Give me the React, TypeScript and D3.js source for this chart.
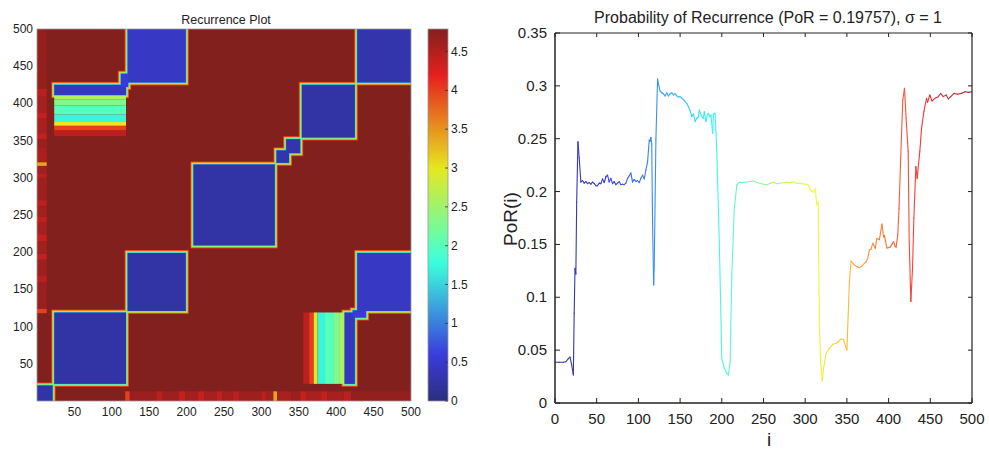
import React from 'react';
import * as d3 from 'd3';

const W = 989;
const H = 450;

// ---------- Recurrence plot (left) ----------
const RP_MAX = 4.79;
const RP_TICKS = [50, 100, 150, 200, 250, 300, 350, 400, 450, 500];
const CB_TICKS = [0, 0.5, 1, 1.5, 2, 2.5, 3, 3.5, 4, 4.5];

// low-distance (recurrent) blocks: [x0, x1, y0, y1, value, hasRim]; mirrored about the diagonal
const RP_BLOCKS: [number, number, number, number, number, number][] = [
  [0, 21, 0, 21, 0.25, 1],
  [23, 119, 23, 119, 0.25, 1],
  [121, 199, 121, 199, 0.25, 1],
  [209, 318, 209, 318, 0.25, 1],
  [320, 337, 320, 337, 0.3, 1],
  [333, 352, 333, 352, 0.3, 1],
  [354, 425, 354, 425, 0.25, 1],
  [428, 500, 428, 500, 0.3, 1],
  [121, 199, 428, 500, 0.45, 1],
  [23, 119, 411, 425, 0.4, 1],
  [112, 122, 422, 440, 0.55, 1],
];
// graded band of B vs F: [x0, x1, y0, y1, value]
const RP_BANDS: [number, number, number, number, number][] = [
  [23, 119, 356, 364, 4.45],
  [23, 119, 364, 370, 4.0],
  [23, 119, 370, 375, 3.0],
  [23, 119, 375, 385, 1.7],
  [23, 119, 385, 397, 2.0],
  [23, 119, 397, 405, 2.3],
  [23, 119, 405, 411, 2.6],
];
// lighter streaks of the first state against later states: [i0, i1, value] (rows j 0..13)
const RP_STRIPS: [number, number, number][] = [
  [118, 124, 4.0], [124, 160, 4.65], [160, 168, 4.45], [168, 190, 4.62], [190, 198, 4.4],
  [198, 215, 4.6], [215, 224, 4.4], [224, 240, 4.58], [240, 248, 4.42], [248, 262, 4.6],
  [262, 270, 4.45], [270, 300, 4.62], [300, 306, 4.45], [306, 316, 4.6], [316, 321, 3.4],
  [321, 340, 4.55], [340, 352, 4.65], [352, 360, 4.4], [360, 380, 4.55], [380, 388, 4.4],
  [388, 410, 4.58], [410, 420, 4.45], [420, 500, 4.68],
];
const RP_RIMS: [number, number][] = [[4, 4.1], [3, 3.4], [2, 2.6], [1, 1.6]];

// ---------- Probability of recurrence (right) ----------
const POR_TICKS_X = [0, 50, 100, 150, 200, 250, 300, 350, 400, 450, 500];
const POR_TICKS_Y = [0, 0.05, 0.1, 0.15, 0.2, 0.25, 0.3, 0.35];
const POR_I = [
  0, 5, 10, 13, 16, 18, 20, 22, 23, 24, 25, 26, 27.5, 29, 31, 33, 35, 37, 39, 41, 43, 45, 47, 49,
  51, 53, 55, 57, 59, 61, 63, 65, 67, 69, 71, 73, 75, 77, 79, 81, 83, 85, 87, 89, 91, 93, 95, 97,
  99, 101, 103, 105, 107, 109, 111, 113, 114, 115, 116, 117, 118.3, 119, 121, 123, 124, 126, 128,
  130, 132, 134, 136, 138, 140, 142, 144, 146, 148, 150, 152, 154, 156, 158, 160, 162, 164, 166,
  168, 170, 172, 173, 175, 176, 178, 179, 181, 183, 184, 186, 187, 189, 190, 192, 194, 197, 200,
  203, 206, 208, 210, 212, 215, 218, 221, 225, 230, 234, 238, 242, 246, 250, 254, 258, 262, 266,
  270, 274, 278, 282, 286, 290, 294, 298, 302, 304, 306, 308, 310, 312, 314, 315.5, 317, 318.5,
  320.5, 322, 325, 329, 333, 337, 340, 343, 346, 348.5, 350, 353, 355, 357, 359, 362, 365, 368,
  371, 373, 375, 377, 379, 381, 384, 386, 389, 392, 394, 395, 398, 400, 402, 404, 406, 408, 409,
  411, 412.5, 414.5, 417, 419, 421, 423.5, 424.7, 426.7, 428.7, 430.3, 432.7, 434.3, 436, 437.4,
  439.5, 442.3, 445.5, 446.7, 449.5, 452, 455.6, 459.6, 462.4, 465.6, 469, 471.7, 474.5, 478.5,
  482.5, 487.7, 491.7, 495.7, 499.7,
];
const POR_V = [
  0.0385, 0.0385, 0.0385, 0.039, 0.042, 0.0435, 0.036, 0.0265, 0.085, 0.1274, 0.122, 0.19, 0.247,
  0.232, 0.209, 0.2105, 0.208, 0.2095, 0.2075, 0.2085, 0.207, 0.209, 0.2075, 0.2055, 0.2055, 0.208,
  0.2075, 0.212, 0.2085, 0.214, 0.2155, 0.209, 0.2125, 0.2075, 0.2095, 0.2065, 0.208, 0.2095,
  0.2065, 0.207, 0.2065, 0.208, 0.2125, 0.215, 0.2175, 0.209, 0.2115, 0.2095, 0.2105, 0.2085,
  0.2125, 0.2155, 0.212, 0.2205, 0.228, 0.2488, 0.2475, 0.2514, 0.245, 0.17, 0.1116, 0.13, 0.25,
  0.3065, 0.302, 0.295, 0.2935, 0.2925, 0.2905, 0.2935, 0.2905, 0.2925, 0.2935, 0.2915, 0.2925,
  0.2905, 0.2895, 0.2898, 0.2885, 0.287, 0.285, 0.2835, 0.2803, 0.2765, 0.2709, 0.2735, 0.2662,
  0.2693, 0.2705, 0.2772, 0.2725, 0.2709, 0.2695, 0.2756, 0.2662, 0.273, 0.274, 0.2705, 0.2725,
  0.255, 0.2735, 0.274, 0.2378, 0.1526, 0.0423, 0.0328, 0.028, 0.0265, 0.0391, 0.121, 0.184,
  0.2063, 0.2088, 0.2085, 0.209, 0.2095, 0.21, 0.2085, 0.2078, 0.207, 0.2063, 0.2078, 0.2088,
  0.2075, 0.2078, 0.2085, 0.2088, 0.2085, 0.209, 0.2078, 0.2078, 0.2072, 0.2068, 0.206, 0.2015,
  0.2005, 0.1993, 0.2024, 0.1873, 0.19, 0.0738, 0.0391, 0.0208, 0.0328, 0.047, 0.0517, 0.0555,
  0.0565, 0.058, 0.0606, 0.06, 0.0533, 0.0502, 0.1147, 0.1343, 0.1325, 0.1305, 0.129, 0.128,
  0.1295, 0.132, 0.1335, 0.1368, 0.1447, 0.1455, 0.151, 0.1463, 0.1557, 0.1545, 0.1693, 0.1571,
  0.1583, 0.1466, 0.147, 0.1475, 0.1503, 0.1526, 0.148, 0.1475, 0.159, 0.184, 0.2315, 0.2866,
  0.2977, 0.2693, 0.2378, 0.1526, 0.096, 0.1274, 0.1747, 0.2236, 0.2125, 0.2268, 0.2378, 0.2598,
  0.2756, 0.2882, 0.2845, 0.2914, 0.2857, 0.2882, 0.2898, 0.2929, 0.2898, 0.2914, 0.2876, 0.2898,
  0.2929, 0.292, 0.2929, 0.2945, 0.2938, 0.2945,
];

const clamp01 = (v: number) => Math.max(0, Math.min(1, v));
function jet(t: number): [number, number, number] {
  t = clamp01(t);
  return [
    clamp01(1.5 - Math.abs(4 * t - 3)),
    clamp01(1.5 - Math.abs(4 * t - 2)),
    clamp01(1.5 - Math.abs(4 * t - 1)),
  ];
}
function rpColor(v: number) {
  const [r, g, b] = jet(v / RP_MAX);
  return d3.rgb(30 + r * 200 + 28 * b, 32 + g * 200 + 28 * b, 30 + b * 190).formatHex();
}
function lineColor(t: number) {
  const [r, g, b] = jet(t);
  return d3.rgb(255 * (0.76 * r + 0.21), 255 * (0.76 * g + 0.21), 255 * (0.74 * b + 0.22)).formatHex();
}

const FONT = '"Liberation Sans", Arial, Helvetica, sans-serif';

export default function App() {
  const xR = d3.scaleLinear().domain([0, 500]).range([37, 411]);
  const yR = d3.scaleLinear().domain([0, 500]).range([401, 29]);
  const cb = d3.scaleLinear().domain([0, RP_MAX]).range([401, 29]);
  const xP = d3.scaleLinear().domain([0, 500]).range([555, 972]);
  const yP = d3.scaleLinear().domain([0, 0.35]).range([403, 33]);

  const rect = (x0: number, x1: number, y0: number, y1: number, v: number, key: string) => (
    <rect key={key} x={xR(x0)} y={yR(y1)} width={xR(x1) - xR(x0)} height={yR(y0) - yR(y1)} fill={rpColor(v)} />
  );
  const mirrored = (b: number[], v: number, key: string, grow = 0) => {
    const [x0, x1, y0, y1] = b;
    const out = [rect(x0 - grow, x1 + grow, y0 - grow, y1 + grow, v, key + 'a')];
    if (!(x0 === y0 && x1 === y1)) out.push(rect(y0 - grow, y1 + grow, x0 - grow, x1 + grow, v, key + 'b'));
    return out;
  };

  const cbStops = d3.range(0, 1.0001, 0.025);

  const segs = [] as JSX.Element[];
  for (let k = 0; k < POR_I.length - 1; k++) {
    const t = (POR_I[k] + POR_I[k + 1]) / 2 / 500;
    segs.push(
      <line key={'s' + k} x1={xP(POR_I[k])} y1={yP(POR_V[k])} x2={xP(POR_I[k + 1])} y2={yP(POR_V[k + 1])}
        stroke={lineColor(t)} strokeWidth={1.1} strokeLinecap="round" />
    );
  }

  return (
    <svg width={W} height={H} style={{ position: 'absolute', left: 0, top: 0, background: '#fff' }} fontFamily={FONT}>
      <defs>
        <clipPath id="rpclip"><rect x={xR(0)} y={yR(500)} width={xR(500) - xR(0)} height={yR(0) - yR(500)} /></clipPath>
        <linearGradient id="cbgrad" x1="0" y1="1" x2="0" y2="0">
          {cbStops.map((s, k) => <stop key={k} offset={s} stopColor={rpColor(s * RP_MAX)} />)}
        </linearGradient>
      </defs>

      {/* Recurrence plot */}
      <text x={226} y={24} textAnchor="middle" fontSize={12.5} fill="#222">Recurrence Plot</text>
      <g clipPath="url(#rpclip)">
        {rect(0, 500, 0, 500, RP_MAX, 'bg')}
        {RP_STRIPS.map((s, k) => mirrored([s[0], s[1], 0, 13], s[2], 'st' + k))}
        {RP_RIMS.map(([g, v], li) => RP_BLOCKS.filter(b => b[5]).map((b, k) => mirrored(b, v, 'r' + li + '_' + k, g)))}
        {RP_BANDS.map((b, k) => mirrored(b, b[4], 'bd' + k))}
        {RP_BLOCKS.map((b, k) => mirrored(b, b[4], 'c' + k))}
      </g>
      <rect x={xR(0)} y={yR(500)} width={xR(500) - xR(0)} height={yR(0) - yR(500)} fill="none" stroke="#999" strokeWidth={0.8} />
      {RP_TICKS.map(t => (
        <text key={'rx' + t} x={xR(t)} y={416} textAnchor="middle" fontSize={12} fill="#222">{t}</text>
      ))}
      {RP_TICKS.map(t => (
        <text key={'ry' + t} x={33} y={yR(t) + 4} textAnchor="end" fontSize={12} fill="#222">{t}</text>
      ))}
      {/* colorbar */}
      <rect x={428} y={cb(RP_MAX)} width={20} height={cb(0) - cb(RP_MAX)} fill="url(#cbgrad)" stroke="#999" strokeWidth={0.8} />
      {CB_TICKS.map(t => (
        <g key={'cb' + t}>
          <line x1={445} x2={448} y1={cb(t)} y2={cb(t)} stroke="#333" strokeWidth={0.8} />
          <text x={451} y={cb(t) + 4} fontSize={12} fill="#222">{t}</text>
        </g>
      ))}

      {/* PoR plot */}
      <text x={768} y={23} textAnchor="middle" fontSize={16} fill="#222">Probability of Recurrence (PoR = 0.19757), σ = 1</text>
      {segs}
      <line x1={xP(0)} x2={xP(500)} y1={yP(0.35)} y2={yP(0.35)} stroke="#222" strokeWidth={1} />
      <line x1={xP(500)} x2={xP(500)} y1={yP(0)} y2={yP(0.35)} stroke="#222" strokeWidth={1.2} />
      <line x1={xP(0)} x2={xP(500)} y1={yP(0)} y2={yP(0)} stroke="#222" strokeWidth={1.5} />
      <line x1={xP(0)} x2={xP(0)} y1={yP(0)} y2={yP(0.35)} stroke="#222" strokeWidth={1.5} />
      {POR_TICKS_X.map(t => (
        <g key={'px' + t}>
          <line x1={xP(t)} x2={xP(t)} y1={yP(0)} y2={yP(0) - 5} stroke="#222" strokeWidth={1} />
          <line x1={xP(t)} x2={xP(t)} y1={yP(0.35)} y2={yP(0.35) + 4} stroke="#222" strokeWidth={1} />
          <text x={xP(t)} y={424} textAnchor="middle" fontSize={15} fill="#222">{t}</text>
        </g>
      ))}
      {POR_TICKS_Y.map(t => (
        <g key={'py' + t}>
          <line x1={xP(0)} x2={xP(0) + 5} y1={yP(t)} y2={yP(t)} stroke="#222" strokeWidth={1} />
          <line x1={xP(500)} x2={xP(500) - 4} y1={yP(t)} y2={yP(t)} stroke="#222" strokeWidth={1} />
          <text x={547} y={yP(t) + 5} textAnchor="end" fontSize={15} fill="#222">{t === 0 ? '0' : String(+t.toFixed(2))}</text>
        </g>
      ))}
      <text x={769} y={446} textAnchor="middle" fontSize={19} fill="#222">i</text>
      <text transform="translate(517,219) rotate(-90)" textAnchor="middle" fontSize={19} fill="#222">PoR(i)</text>
    </svg>
  );
}
